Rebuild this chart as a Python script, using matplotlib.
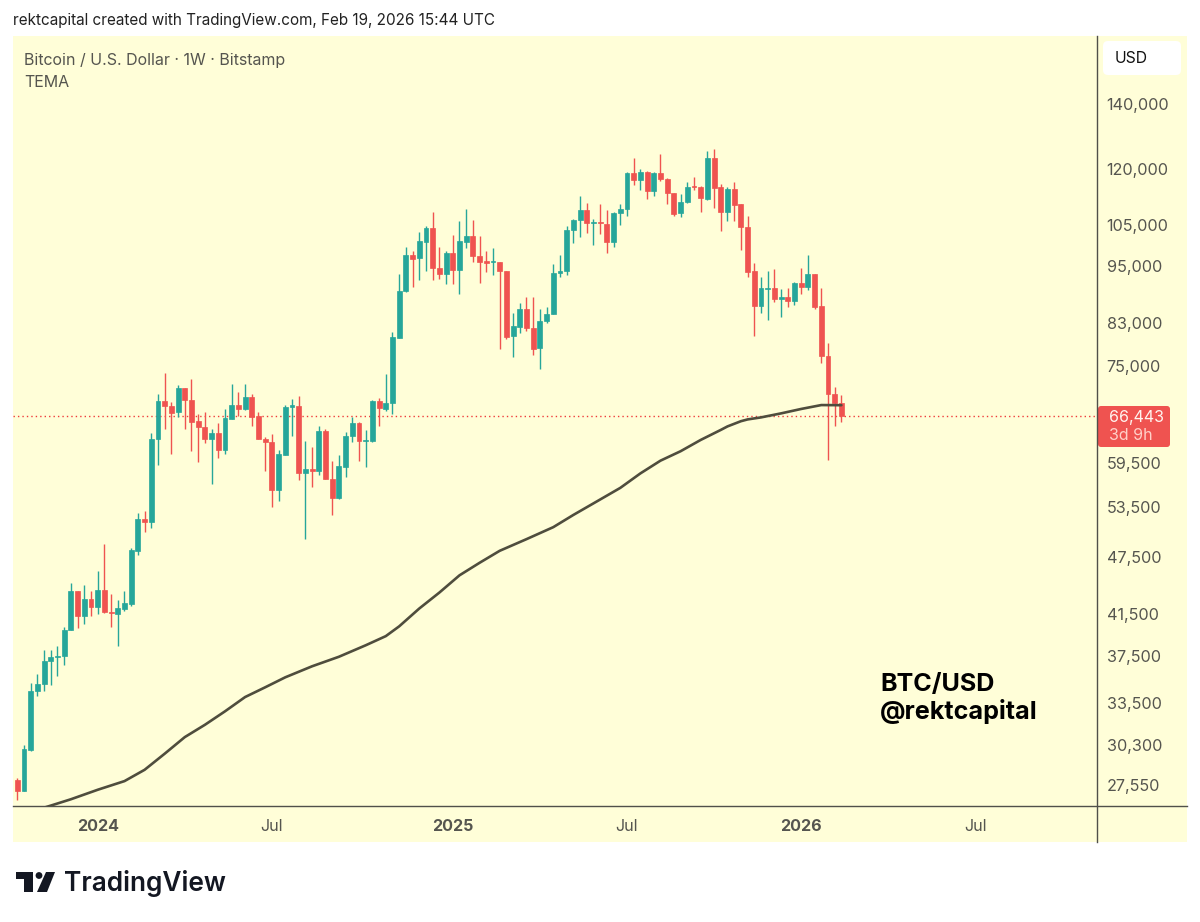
import numpy as np
import matplotlib
matplotlib.use("Agg")
import matplotlib.pyplot as plt
from matplotlib.patches import Rectangle, FancyBboxPatch, Polygon, Circle

plt.rcParams['font.family'] = ['Inter', 'DejaVu Sans']

# weekly candles, BTC/USD Bitstamp
opens = [27910, 27140, 29980, 34510, 35040, 37070, 37400, 37460, 39940, 43780,
         41280, 42950, 42170, 43910, 41670, 41500, 41970, 42450, 48230, 52050,
         51610, 63000, 68880, 68160, 67090, 71150, 69140, 65670, 64830, 63000,
         63910, 61320, 66030, 68280, 67570, 69530, 66500, 63000, 62500, 55700,
         60600, 68000, 68070, 58010, 58600, 58320, 64120, 57190, 54650, 58920,
         63370, 65450, 62650, 62650, 68880, 67670, 68600, 80170, 89550, 97650,
         96880, 100800, 104150, 94740, 93320, 98050, 94220, 100800, 102260, 97350,
         96190, 95970, 96030, 93930, 80500, 82290, 85850, 82100, 78170, 83480,
         84830, 93480, 94000, 103650, 106150, 108720, 105330, 105650, 105240, 100660,
         108020, 108980, 118670, 116700, 119040, 113840, 118840, 117150, 113140, 107850,
         110800, 115030, 114920, 111610, 123080, 114760, 108200, 114220, 110180, 104330,
         93930, 86530, 90050, 90190, 87860, 88350, 87560, 91340, 90540, 93320,
         86400, 76750, 70090, 68600]
highs = [28020, 30340, 35200, 35920, 38000, 38000, 38420, 40200, 44680, 43780,
         44410, 43780, 45920, 49000, 43500, 42810, 43810, 48580, 52800, 52980,
         63910, 70090, 73640, 68710, 71620, 71150, 72650, 66780, 67140, 64520,
         65360, 67570, 71840, 70480, 71840, 70040, 67140, 63250, 63710, 61320,
         68230, 69260, 69810, 62610, 61720, 64890, 64430, 59690, 60600, 63970,
         66340, 65560, 64320, 69090, 69370, 73460, 81320, 93260, 99460, 98650,
         103230, 104730, 108120, 99610, 98590, 102500, 105900, 108980, 106150, 102260,
         98650, 99290, 96100, 94000, 84970, 87140, 88400, 88280, 85850, 86260,
         95510, 97720, 104730, 106500, 112420, 110450, 106490, 110180, 108720, 108200,
         110180, 118950, 122990, 119970, 119320, 118950, 124140, 117260, 113300, 112870,
         116310, 117540, 115030, 125230, 125740, 115580, 114920, 116150, 110260, 107070,
         95740, 92720, 93930, 94380, 89980, 90260, 91490, 94600, 97720, 93320,
         90190, 79110, 71270, 69920]
lows = [26570, 27140, 29910, 34100, 34530, 35010, 35710, 36720, 39940, 40130,
        40490, 41280, 41440, 41540, 40200, 38450, 41800, 42270, 47710, 50470,
        50870, 59170, 64470, 60700, 66390, 64470, 61220, 59590, 62400, 56510,
        60120, 60740, 66030, 66500, 67460, 64890, 63000, 58370, 53530, 54300,
        60600, 63370, 57130, 49550, 56100, 57770, 57190, 52510, 54560, 57460,
        62460, 59730, 58840, 62460, 64890, 67350, 66780, 80170, 89340, 90480,
        91920, 94060, 91990, 92210, 91090, 91090, 88980, 99230, 95970, 91380,
        93840, 93170, 78090, 79980, 76510, 81130, 81450, 76930, 74340, 82960,
        84830, 92660, 93170, 100570, 101940, 102970, 100090, 102610, 98050, 99540,
        104830, 107180, 115400, 114030, 111690, 112340, 116590, 110340, 107250, 107000,
        110450, 114110, 108270, 111420, 109320, 103410, 105900, 105980, 98750, 92720,
        80440, 85090, 83680, 87350, 84280, 86190, 86670, 88980, 89830, 85850,
        75490, 59870, 64980, 65510]
closes = [27140, 30030, 34530, 35040, 37070, 37400, 37520, 39940, 43780, 41280,
          43010, 42170, 43910, 41640, 41540, 42040, 42550, 48280, 52050, 51610,
          63000, 68880, 68160, 67030, 71150, 69090, 65610, 64830, 63000, 63910,
          61320, 66180, 68280, 67570, 69530, 66390, 63000, 62500, 55700, 60700,
          67950, 68230, 58010, 58600, 58320, 64120, 57190, 54730, 59020, 63410,
          65450, 62650, 62800, 68880, 67740, 68550, 80250, 89550, 97650, 96790,
          100900, 104150, 94740, 93320, 98050, 94220, 100900, 102260, 97350, 96100,
          95880, 96190, 93930, 80370, 82430, 85850, 81980, 78040, 83420, 84830,
          93480, 94000, 103720, 106230, 108720, 105330, 105580, 105330, 100660, 108020,
          108980, 118670, 116860, 119040, 113840, 118760, 117060, 113140, 107750, 110800,
          114920, 114760, 111880, 123080, 114660, 108200, 114220, 110070, 104330, 93840,
          86530, 90190, 90260, 87860, 88280, 87560, 91340, 90540, 93320, 86190,
          76750, 70090, 68580, 66443]

tema_weeks = [4, 5, 8, 12, 16, 19, 22, 25, 28, 31, 34, 37, 40, 44, 48, 52, 55, 57, 60, 63,
              66, 69, 72, 76, 80, 83, 86, 90, 93, 96, 99, 102, 105, 106, 108, 109, 111, 114,
              117, 120, 123]
tema_values = [26110, 26240, 26640, 27250, 27820, 28580, 29700, 30900, 31820, 32860,
               34000, 34800, 35640, 36590, 37430, 38470, 39320, 40250, 42000, 43630,
               45460, 46840, 48200, 49560, 51000, 52510, 53980, 56010, 57980, 59770,
               61130, 62800, 64320, 64860, 65670, 65950, 66270, 66910, 67620, 68250, 68230]

price_ticks = [140000, 120000, 105000, 95000, 83000, 75000, 59500, 53500, 47500,
               41500, 37500, 33500, 30300, 27550]
time_ticks = [12, 38, 65, 91, 117, 143]
time_labels = ['2024', 'Jul', '2025', 'Jul', '2026', 'Jul']
last_price = 66443

GREEN = '#26A69A'
RED = '#EF5350'
PANEL = '#FFFED8'
AXIS_LINE = '#50504A'
TICK_TEXT = '#55554F'

fig = plt.figure(figsize=(12, 9.22), dpi=100, facecolor='white')

# page layer in pixel coordinates: panel, header, footer
page = fig.add_axes([0, 0, 1, 1], zorder=0)
page.set_xlim(0, 1200)
page.set_ylim(922, 0)
page.axis('off')
page.add_patch(Rectangle((13, 36), 1174, 806, fc=PANEL, ec='none'))
page.plot([1097, 1097], [36, 842], color=AXIS_LINE, lw=1)
page.plot([13, 1187], [806, 806], color=AXIS_LINE, lw=1)

page.text(13, 20, 'rektcapital created with TradingView.com, Feb 19, 2026 15:44 UTC',
          fontsize=11, color='#222222', va='center')
page.text(24, 60.5, 'Bitcoin / U.S. Dollar · 1W · Bitstamp', fontsize=11.5, color='#55554F', va='center')
page.text(24, 82.5, 'TEMA', fontsize=11.5, color='#55554F', va='center')

page.add_patch(FancyBboxPatch((1106, 44), 72, 28, boxstyle='round,pad=3,rounding_size=5',
                              fc='white', ec='none'))
page.text(1115, 58.5, 'USD', fontsize=11.3, color='#111111', va='center')

# last price label
page.add_patch(FancyBboxPatch((1100, 408), 68, 37, boxstyle='round,pad=2,rounding_size=3',
                              fc=RED, ec='none'))
page.text(1109, 417, f'{last_price:,}', fontsize=11.5, color='#FFF3EE', va='center')
page.text(1109, 435, '3d 9h', fontsize=11.5, color='#FFD0C8', va='center')

page.text(880, 684, 'BTC/USD', fontsize=18.1, fontweight='bold', color='black', va='center')
page.text(880, 711, '@rektcapital', fontsize=18.1, fontweight='bold', color='black', va='center')

# TradingView logo
page.add_patch(Polygon([(16, 872), (33, 872), (33, 892), (24, 892), (24, 879), (16, 879)],
                       fc='#131722', ec='none'))
page.add_patch(Circle((39, 875.5), 3.4, fc='#131722', ec='none'))
page.add_patch(Polygon([(46, 872), (55, 872), (47, 892), (37, 892)], fc='#131722', ec='none'))
page.text(64, 883, 'TradingView', fontsize=18.9, fontweight='semibold', color='#131722', va='center')

# chart layer
ax = fig.add_axes([13 / 1200, (922 - 806) / 922, 1084 / 1200, 769 / 922], zorder=1)
ax.patch.set_alpha(0)
ax.set_yscale('log')
ax.set_ylim(26215, 164280)
ax.set_xlim(-0.64, 161.15)

weeks = np.arange(len(opens))
opens = np.array(opens)
closes = np.array(closes)
up = closes >= opens
colors = [GREEN if u else RED for u in up]

ax.vlines(weeks, lows, highs, colors=colors, lw=1.0, zorder=2)
ax.bar(weeks, np.abs(closes - opens), bottom=np.minimum(opens, closes), width=0.72,
       color=colors, edgecolor=colors, lw=0.5, zorder=3)
ax.plot(tema_weeks, tema_values, color='#4F4D3D', lw=1.9, zorder=4,
        solid_capstyle='round', solid_joinstyle='round')
ax.axhline(last_price, color='#EF3B3B', lw=1, ls=(0, (1, 2.2)), zorder=1)

for s in ax.spines.values():
    s.set_visible(False)

ax.yaxis.tick_right()
ax.set_yticks(price_ticks, labels=[f'{p:,}' for p in price_ticks])
ax.minorticks_off()
ax.tick_params(axis='y', length=0, pad=7, labelsize=11.7, labelcolor=TICK_TEXT)
ax.set_xticks(time_ticks, labels=time_labels)
ax.tick_params(axis='x', length=0, pad=9.5, labelsize=11.6, labelcolor=TICK_TEXT)
for lab in ax.get_xticklabels():
    if lab.get_text() != 'Jul':
        lab.set_fontweight('bold')

fig.savefig('out.png', dpi=100, facecolor='white')
